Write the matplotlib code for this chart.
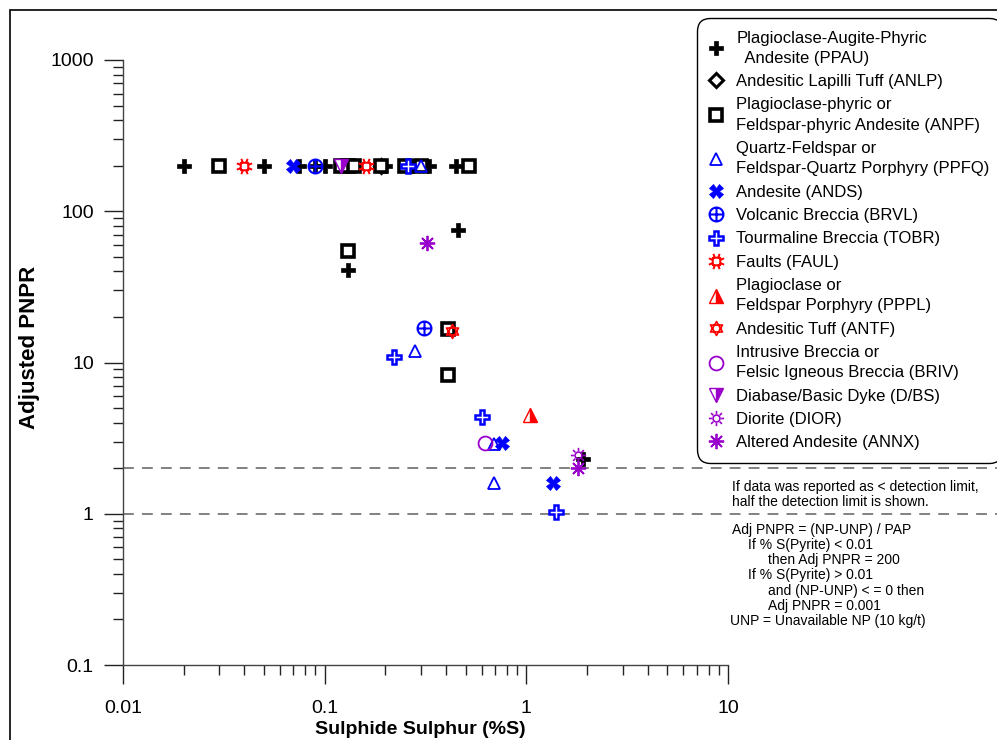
import math
import matplotlib
matplotlib.use("Agg")
import matplotlib.pyplot as plt
from matplotlib.path import Path
from matplotlib.lines import Line2D
from matplotlib.patches import Rectangle
from matplotlib.ticker import FixedLocator, NullFormatter

plt.rcParams['font.family'] = ['Liberation Sans', 'DejaVu Sans']

# --- sample data: sulphide sulphur (%S) vs adjusted PNPR, one pair of lists per rock code
PPAU_S = [0.02, 0.05, 0.075, 0.09, 0.10, 0.13, 0.20, 0.27, 0.33, 0.45, 0.13, 0.46, 1.9]
PPAU_N = [200, 200, 200, 200, 200, 200, 200, 200, 200, 200, 41, 75, 2.3]
ANLP_S = [0.19]
ANLP_N = [200]
ANPF_S = [0.03, 0.12, 0.13, 0.14, 0.19, 0.25, 0.30, 0.52, 0.13, 0.41, 0.41]
ANPF_N = [200, 200, 200, 200, 200, 200, 200, 200, 55, 16.7, 8.3]
PPFQ_S = [0.30, 0.28, 0.69, 0.69]
PPFQ_N = [200, 12, 2.9, 1.6]
ANDS_S = [0.07, 0.76, 1.35]
ANDS_N = [200, 2.95, 1.6]
BRVL_S = [0.09, 0.31]
BRVL_N = [200, 17]
TOBR_S = [0.26, 0.22, 0.60, 1.40]
TOBR_N = [200, 10.8, 4.35, 1.03]
FAUL_S = [0.04, 0.16]
FAUL_N = [200, 200]
PPPL_S = [1.04]
PPPL_N = [4.5]
ANTF_S = [0.43]
ANTF_N = [16.2]
BRIV_S = [0.62]
BRIV_N = [2.95]
DBS_S = [0.12]
DBS_N = [200]
DIOR_S = [1.8]
DIOR_N = [2.45]
ANNX_S = [0.32, 1.8]
ANNX_N = [62, 2.0]

LABELS = [
    "Plagioclase-Augite-Phyric\n  Andesite (PPAU)",
    "Andesitic Lapilli Tuff (ANLP)",
    "Plagioclase-phyric or\nFeldspar-phyric Andesite (ANPF)",
    "Quartz-Feldspar or\nFeldspar-Quartz Porphyry (PPFQ)",
    "Andesite (ANDS)",
    "Volcanic Breccia (BRVL)",
    "Tourmaline Breccia (TOBR)",
    "Faults (FAUL)",
    "Plagioclase or\nFeldspar Porphyry (PPPL)",
    "Andesitic Tuff (ANTF)",
    "Intrusive Breccia or\nFelsic Igneous Breccia (BRIV)",
    "Diabase/Basic Dyke (D/BS)",
    "Diorite (DIOR)",
    "Altered Andesite (ANNX)",
]

NOTE_LINES = [
    (0, "If data was reported as < detection limit,"),
    (0, "half the detection limit is shown."),
    (None, ""),
    (0, "Adj PNPR = (NP-UNP) / PAP"),
    (1, "If % S(Pyrite) < 0.01"),
    (2, "then Adj PNPR = 200"),
    (1, "If % S(Pyrite) > 0.01"),
    (2, "and (NP-UNP) < = 0 then"),
    (2, "Adj PNPR = 0.001"),
    (-1, "UNP = Unavailable NP (10 kg/t)"),
]


# --- custom marker shapes
def _segments(pairs):
    verts, codes = [], []
    for a, b in pairs:
        verts += [a, b]
        codes += [Path.MOVETO, Path.LINETO]
    return Path(verts, codes)


def _scaled(path, s):
    return Path(path.vertices * s, path.codes)


def _rays(r0, r1, offset):
    out = []
    for k in range(8):
        a = k * math.pi / 4 + offset
        out.append(((r0 * math.cos(a), r0 * math.sin(a)), (r1 * math.cos(a), r1 * math.sin(a))))
    return out


OPLUS = Path.make_compound_path(Path.unit_circle(),
                                _segments([((-1, 0), (1, 0)), ((0, -1), (0, 1))]))
DAVID = Path.make_compound_path(
    Path([(0, 1), (-0.866, -0.5), (0.866, -0.5), (0, 1)], closed=True),
    Path([(0, -1), (-0.866, 0.5), (0.866, 0.5), (0, -1)], closed=True),
)
SUN = Path.make_compound_path(_scaled(Path.unit_circle(), 0.45), _segments(_rays(0.6, 1.0, 0)))
BURST = Path.make_compound_path(
    Path([(-0.45, -0.45), (0.45, -0.45), (0.45, 0.45), (-0.45, 0.45), (-0.45, -0.45)], closed=True),
    _segments(_rays(0.45, 1.0, math.pi / 8)),
)

BLUE = '#0000ff'
RED = '#ff0000'
PURPLE = '#9900cc'

STYLES = [
    dict(marker='P', ms=10, mfc='black', mec='black', mew=0.5),
    dict(marker='D', ms=7, mfc='white', mec='black', mew=2.2),
    dict(marker='s', ms=8, mfc='white', mec='black', mew=2.6),
    dict(marker='^', ms=9, mfc='none', mec=BLUE, mew=1.3),
    dict(marker='X', ms=10, mfc=BLUE, mec=BLUE, mew=0.5),
    dict(marker=OPLUS, ms=10, mfc='none', mec=BLUE, mew=1.5),
    dict(marker='P', ms=10, mfc='white', mec=BLUE, mew=1.8),
    dict(marker=BURST, ms=11, mfc='none', mec=RED, mew=1.4),
    dict(marker='^', ms=10, mfc=RED, mec=RED, mew=1.0, fillstyle='right', markerfacecoloralt='white'),
    dict(marker=DAVID, ms=10, mfc='none', mec=RED, mew=1.2),
    dict(marker='o', ms=10, mfc='none', mec=PURPLE, mew=1.3),
    dict(marker='v', ms=10, mfc=PURPLE, mec=PURPLE, mew=1.0, fillstyle='right', markerfacecoloralt='white'),
    dict(marker=SUN, ms=11, mfc='none', mec=PURPLE, mew=1.2),
    dict(marker=(8, 2, 0), ms=11, mfc='none', mec=PURPLE, mew=1.3),
]

SERIES = [
    (PPAU_S, PPAU_N), (ANLP_S, ANLP_N), (ANPF_S, ANPF_N), (PPFQ_S, PPFQ_N),
    (ANDS_S, ANDS_N), (BRVL_S, BRVL_N), (TOBR_S, TOBR_N), (FAUL_S, FAUL_N),
    (PPPL_S, PPPL_N), (ANTF_S, ANTF_N), (BRIV_S, BRIV_N), (DBS_S, DBS_N),
    (DIOR_S, DIOR_N), (ANNX_S, ANNX_N),
]

W, H = 997, 740
fig = plt.figure(figsize=(W / 100, H / 100), dpi=100)
ax = fig.add_axes([123 / W, 75 / H, 1 - 123 / W, 605 / H])
ax.set_xscale('log')
ax.set_yscale('log')
ax.set_xlim(0.01, 10 ** (-2 + 874 / 201.7))
ax.set_ylim(0.1, 1000)

for side in ('top', 'right'):
    ax.spines[side].set_visible(False)
ax.spines['left'].set_bounds(0.1, 1000)
ax.spines['bottom'].set_bounds(0.01, 10)
for side in ('left', 'bottom'):
    ax.spines[side].set_color('#444444')
    ax.spines[side].set_linewidth(1.0)

ax.xaxis.set_major_locator(FixedLocator([0.01, 0.1, 1, 10]))
ax.set_xticklabels(['0.01', '0.1', '1', '10'])
ax.xaxis.set_minor_locator(FixedLocator([k * 10.0 ** e for e in (-2, -1, 0) for k in range(2, 10)]))
ax.xaxis.set_minor_formatter(NullFormatter())
ax.yaxis.set_major_locator(FixedLocator([0.1, 1, 10, 100, 1000]))
ax.set_yticklabels(['0.1', '1', '10', '100', '1000'])
ax.yaxis.set_minor_locator(FixedLocator([k * 10.0 ** e for e in (-1, 0, 1, 2) for k in range(2, 10)]))
ax.yaxis.set_minor_formatter(NullFormatter())
ax.tick_params(which='major', direction='out', length=14, width=1, color='#222222', labelsize=14)
ax.tick_params(which='minor', direction='out', length=7, width=1, color='#222222')
ax.tick_params(axis='y', which='major', pad=7)
ax.tick_params(axis='x', which='major', pad=11)

# guide lines at PNPR = 2 and 1
for level in (2, 1):
    ax.axhline(level, color='#777777', lw=1.3, dashes=(6, 4.5), zorder=1)

handles = []
for (xs, ys), st in zip(SERIES, STYLES):
    ax.plot(xs, ys, linestyle='none', clip_on=False, zorder=3, **st)
    handles.append(Line2D([], [], linestyle='none', **st))

leg = ax.legend(handles, LABELS, loc='upper left',
                bbox_to_anchor=(697 / W, 1 - 18 / H), bbox_transform=fig.transFigure,
                fontsize=12, frameon=True, fancybox=True, framealpha=1,
                edgecolor='black', borderpad=0.75, handlelength=0.8,
                handletextpad=0.8, labelspacing=0.5, borderaxespad=0)
leg.get_frame().set_linewidth(1.0)
leg.get_frame().set_boxstyle('round,pad=0,rounding_size=0.8')
for t in leg.get_texts():
    t.set_linespacing(1.44)

fig.text(30 / W, 1 - 347 / H, 'Adjusted PNPR', rotation=90, fontsize=16,
         fontweight='bold', ha='center', va='center')
fig.text(420 / W, 1 - 730 / H, 'Sulphide Sulphur (%S)', fontsize=14,
         fontweight='bold', ha='center', va='center')

# note block under the legend
indent_px = {-1: 730, 0: 732, 1: 748, 2: 768}
y = 487
for level, line in NOTE_LINES:
    if level is None:
        y += 12
        continue
    fig.text(indent_px[level] / W, 1 - y / H, line, fontsize=10, ha='left', va='center')
    y += 15.3

# outer frame
fig.add_artist(Rectangle((10 / W, -0.2), 1.2, 1.2 - 10 / H, transform=fig.transFigure,
                         fill=False, edgecolor='black', lw=1.2))

fig.savefig('out.png', dpi=100)
